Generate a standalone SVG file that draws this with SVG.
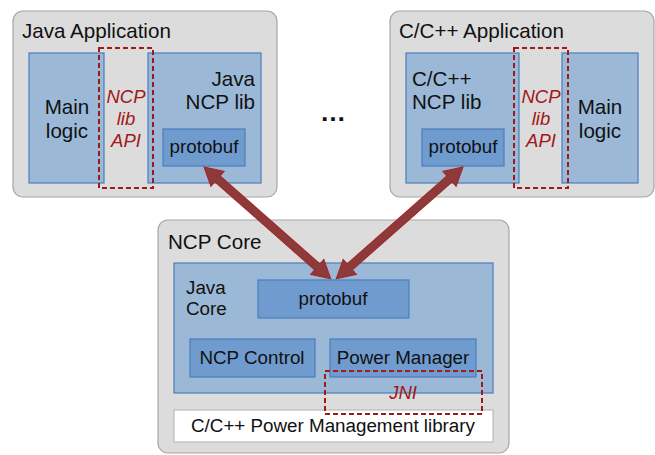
<svg xmlns="http://www.w3.org/2000/svg" width="655" height="455" viewBox="0 0 655 455">
<style>
.outer{fill:#dcdcdc;stroke:#a6a6a6;stroke-width:1.2}
.blue{fill:#9bb9d7;stroke:#4a7ebb;stroke-width:1.2}
.inner{fill:#6f9bcf;stroke:#4a7ebb;stroke-width:1.2}
.white{fill:#ffffff;stroke:#b0b0b0;stroke-width:1}
.dash{fill:none;stroke:#a01818;stroke-width:2;stroke-dasharray:5,3}
text{font-family:"Liberation Sans",Arial,sans-serif;fill:#111111}
.t20{font-size:20.6px}
.t18{font-size:18.8px}
.api{font-size:18.5px;font-style:italic;fill:#a01818}
.arrow{fill:#8d3a3a;stroke:#a52626;stroke-width:1}
</style>
<rect width="655" height="455" fill="#ffffff"/>

<g id="java-app">
<rect class="outer" x="13" y="11" width="264" height="186" rx="10"/>
<text class="t20" x="22" y="38">Java Application</text>
<rect class="blue" x="29" y="53" width="75" height="130"/>
<text class="t20" x="67" y="114" text-anchor="middle">Main</text>
<text class="t20" x="67" y="138" text-anchor="middle">logic</text>
<rect class="blue" x="148" y="53" width="113" height="130"/>
<text class="t20" x="255" y="86" text-anchor="end">Java</text>
<text class="t20" x="255" y="109" text-anchor="end">NCP lib</text>
<g id="java-protobuf">
<rect class="inner" x="163" y="129" width="82" height="37"/>
<text class="t18" x="204" y="153" text-anchor="middle">protobuf</text>
</g>
<rect class="dash" x="99" y="48" width="54" height="140"/>
<text class="api" x="126" y="103" text-anchor="middle">NCP</text>
<text class="api" x="126" y="125" text-anchor="middle">lib</text>
<text class="api" x="126" y="147" text-anchor="middle">API</text>
</g>

<g id="cpp-app">
<rect class="outer" x="390" y="11" width="264" height="186" rx="10"/>
<text class="t20" x="399" y="38">C/C++ Application</text>
<rect class="blue" x="406" y="53" width="113" height="130"/>
<text class="t20" x="412" y="86">C/C++</text>
<text class="t20" x="412" y="109">NCP lib</text>
<rect class="blue" x="562" y="53" width="76" height="130"/>
<text class="t20" x="600" y="114" text-anchor="middle">Main</text>
<text class="t20" x="600" y="138" text-anchor="middle">logic</text>
<g id="cpp-protobuf">
<rect class="inner" x="422" y="129" width="82" height="37"/>
<text class="t18" x="463" y="153" text-anchor="middle">protobuf</text>
</g>
<rect class="dash" x="514" y="48" width="54" height="140"/>
<text class="api" x="541" y="103" text-anchor="middle">NCP</text>
<text class="api" x="541" y="125" text-anchor="middle">lib</text>
<text class="api" x="541" y="147" text-anchor="middle">API</text>
</g>

<g id="ellipsis">
<text x="333" y="121" text-anchor="middle" style="font-size:26px;font-weight:bold">…</text>
</g>

<g id="ncp-core">
<rect class="outer" x="158" y="220" width="351" height="233" rx="10"/>
<text class="t20" x="168" y="249">NCP Core</text>
<rect class="blue" x="174" y="263" width="319" height="130"/>
<text class="t18" x="186" y="294">Java</text>
<text class="t18" x="186" y="315">Core</text>
<g id="core-protobuf">
<rect class="inner" x="258" y="280" width="151" height="38"/>
<text class="t18" x="333" y="305" text-anchor="middle">protobuf</text>
</g>
<g id="ncp-control">
<rect class="inner" x="190" y="339" width="125" height="38"/>
<text class="t18" x="252" y="364" text-anchor="middle">NCP Control</text>
</g>
<g id="power-manager">
<rect class="inner" x="330" y="339" width="146" height="38"/>
<text class="t18" x="403" y="364" text-anchor="middle">Power Manager</text>
</g>
<g id="pm-library">
<rect class="white" x="174" y="410" width="319" height="32"/>
<text class="t18" x="333" y="432" text-anchor="middle">C/C++ Power Management library</text>
</g>
<g id="jni">
<rect class="dash" x="325" y="371" width="157" height="43"/>
<text class="api" x="403" y="399" text-anchor="middle">JNI</text>
</g>
</g>

<g id="connectors">
<polygon class="arrow" transform="translate(204,167) rotate(41.4)" points="0,0 18,-10 18,-4 151,-4 151,-10 169,0 151,10 151,4 18,4 18,10"/>
<polygon class="arrow" transform="translate(463,167) rotate(138.6)" points="0,0 18,-10 18,-4 151,-4 151,-10 169,0 151,10 151,4 18,4 18,10"/>
</g>
</svg>
